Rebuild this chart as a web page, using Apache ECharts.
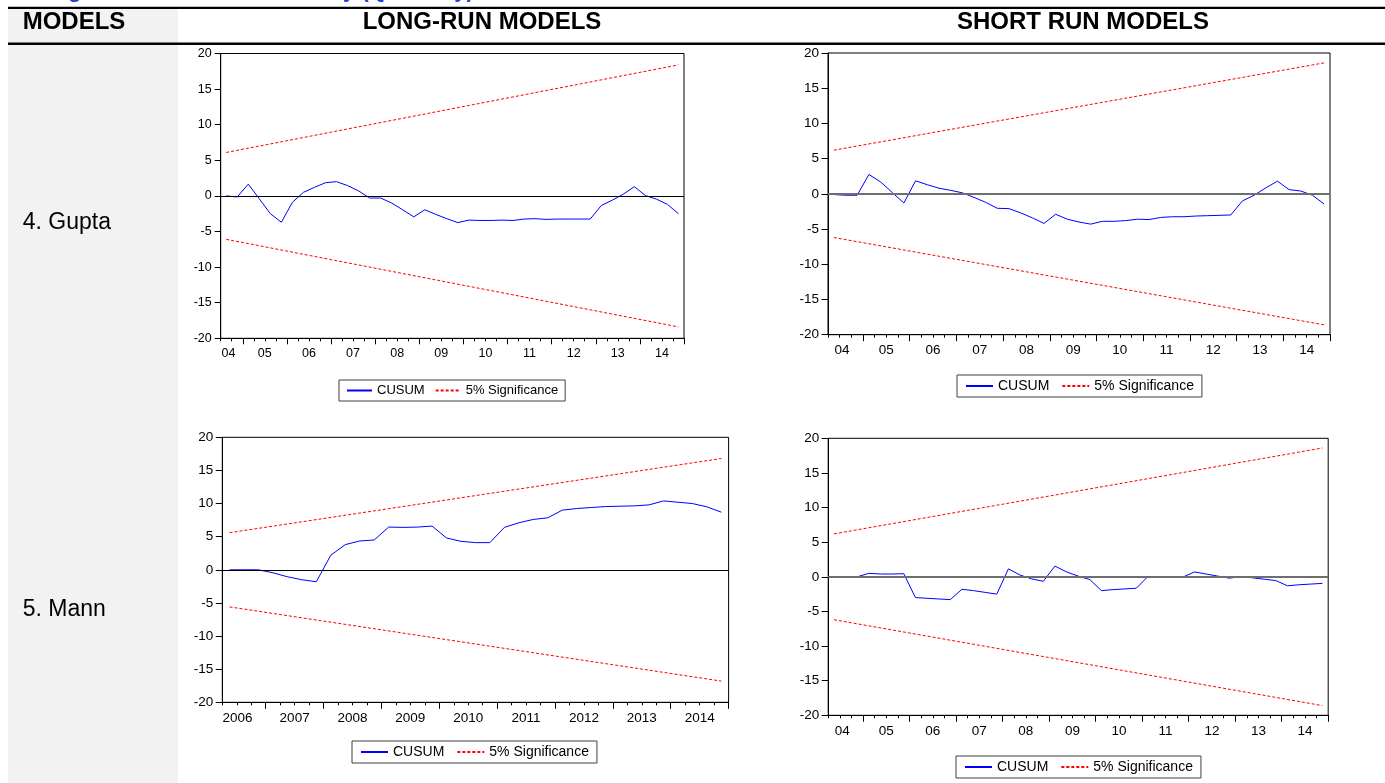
<!DOCTYPE html>
<html><head><meta charset="utf-8">
<script src="https://cdn.jsdelivr.net/npm/echarts@6/dist/echarts.min.js"></script>
<style>html,body{margin:0;padding:0;background:#fff}#c{width:1385px;height:783px}</style>
</head><body><div id="c"></div>
<script>
// ---------------- DATA ----------------
const quartersGuptaLR = ["2004Q3","2004Q4",
 "2005Q1","2005Q2","2005Q3","2005Q4","2006Q1","2006Q2","2006Q3","2006Q4",
 "2007Q1","2007Q2","2007Q3","2007Q4","2008Q1","2008Q2","2008Q3","2008Q4",
 "2009Q1","2009Q2","2009Q3","2009Q4","2010Q1","2010Q2","2010Q3","2010Q4",
 "2011Q1","2011Q2","2011Q3","2011Q4","2012Q1","2012Q2","2012Q3","2012Q4",
 "2013Q1","2013Q2","2013Q3","2013Q4","2014Q1","2014Q2","2014Q3","2014Q4"];
const quartersShortRun = ["2004Q2","2004Q3","2004Q4",
 "2005Q1","2005Q2","2005Q3","2005Q4","2006Q1","2006Q2","2006Q3","2006Q4",
 "2007Q1","2007Q2","2007Q3","2007Q4","2008Q1","2008Q2","2008Q3","2008Q4",
 "2009Q1","2009Q2","2009Q3","2009Q4","2010Q1","2010Q2","2010Q3","2010Q4",
 "2011Q1","2011Q2","2011Q3","2011Q4","2012Q1","2012Q2","2012Q3","2012Q4",
 "2013Q1","2013Q2","2013Q3","2013Q4","2014Q1","2014Q2","2014Q3","2014Q4"];
const quartersMannLR = ["2006Q2","2006Q3","2006Q4",
 "2007Q1","2007Q2","2007Q3","2007Q4","2008Q1","2008Q2","2008Q3","2008Q4",
 "2009Q1","2009Q2","2009Q3","2009Q4","2010Q1","2010Q2","2010Q3","2010Q4",
 "2011Q1","2011Q2","2011Q3","2011Q4","2012Q1","2012Q2","2012Q3","2012Q4",
 "2013Q1","2013Q2","2013Q3","2013Q4","2014Q1","2014Q2","2014Q3","2014Q4"];

const cusumGuptaLR = [0.0,-0.15,1.65,-0.4,-2.5,-3.7,-0.9,0.5,1.2,1.85,
 2.0,1.45,0.7,-0.3,-0.3,-1.0,-1.95,-2.95,-1.95,-2.6,
 -3.2,-3.75,-3.4,-3.45,-3.45,-3.4,-3.45,-3.25,-3.2,-3.3,
 -3.25,-3.25,-3.25,-3.25,-1.35,-0.6,0.25,1.3,0.05,-0.45,
 -1.2,-2.5];
const cusumGuptaSR = [-0.1,-0.2,-0.2,2.75,1.7,0.2,-1.3,1.85,1.3,0.8,
 0.5,0.15,-0.5,-1.2,-2.05,-2.1,-2.7,-3.4,-4.2,-2.9,
 -3.6,-4.0,-4.3,-3.9,-3.9,-3.8,-3.6,-3.65,-3.35,-3.25,
 -3.25,-3.15,-3.1,-3.05,-3.0,-1.0,-0.2,0.85,1.8,0.6,
 0.4,-0.2,-1.45];
const cusumMannLR = [0.0,0.0,0.0,-0.45,-1.05,-1.5,-1.8,2.2,3.8,4.35,
 4.5,6.45,6.4,6.45,6.6,4.8,4.3,4.1,4.1,6.4,
 7.1,7.6,7.85,9.0,9.25,9.4,9.55,9.6,9.65,9.8,
 10.4,10.2,10.0,9.5,8.7];
const cusumMannSR = [0.0,0.0,0.0,0.5,0.4,0.4,0.45,-3.0,-3.1,-3.2,
 -3.3,-1.8,-2.0,-2.25,-2.5,1.15,0.25,-0.3,-0.65,1.55,
 0.7,0.1,-0.4,-2.0,-1.85,-1.75,-1.65,0.05,0.0,0.0,
 -0.05,0.7,0.4,0.1,-0.2,0.05,-0.15,-0.35,-0.55,-1.3,
 -1.15,-1.05,-0.95];

// 5% significance bound at the first and last observation (lower bound is the mirror)
const boundGuptaLR = [6.1, 18.4];
const boundGuptaSR = [6.2, 18.6];
const boundMannLR  = [5.6, 16.8];
const boundMannSR  = [6.2, 18.6];

const yearLabelsShort = ["04","05","06","07","08","09","10","11","12","13","14"];
const yearLabelsMannLR = ["2006","2007","2008","2009","2010","2011","2012","2013","2014"];

const legendNames = ["CUSUM","5% Significance"];
const rowLabels = ["4. Gupta","5. Mann"];
const headerLabels = ["MODELS","LONG-RUN MODELS","SHORT RUN MODELS"];
const titleFragment = "Figure 4: CUSUM for Stability (Quarterly)";

// ---------------- LAYOUT / STYLE ----------------
const FONT = "Arial, 'Liberation Sans', sans-serif";
const panels = [
 {cats:quartersGuptaLR, vals:cusumGuptaLR, bound:boundGuptaLR, years:yearLabelsShort, base:2004,
  grid:{left:220.7, top:53.5, width:463.3, height:284.8}, legend:{left:339, top:380},
  zero:{color:'#000', width:1}, firstShift:-0.3, fs:12.5, lfs:13, iw:25, gap:10, pad:7, tick:6},
 {cats:quartersShortRun, vals:cusumGuptaSR, bound:boundGuptaSR, years:yearLabelsShort, base:2004,
  grid:{left:828, top:53, width:502, height:281.7}, legend:{left:957, top:375},
  zero:{color:'#6e6e6e', width:2}, firstShift:-0.3, fs:13.5, lfs:14, iw:27, gap:12, pad:8, tick:6.5},
 {cats:quartersMannLR, vals:cusumMannLR, bound:boundMannLR, years:yearLabelsMannLR, base:2006,
  grid:{left:222.3, top:437.3, width:506.3, height:265}, legend:{left:352, top:741},
  zero:{color:'#000', width:1}, firstShift:-0.45, fs:13.5, lfs:14, iw:27, gap:12, pad:8, tick:6.5},
 {cats:quartersShortRun, vals:cusumMannSR, bound:boundMannSR, years:yearLabelsShort, base:2004,
  grid:{left:828.2, top:438.3, width:500, height:277}, legend:{left:956, top:756},
  zero:{color:'#6e6e6e', width:2}, firstShift:-0.3, fs:13.5, lfs:14, iw:27, gap:12, pad:8, tick:6.5}
];

const grids=[], xAxes=[], yAxes=[], series=[], legends=[];
panels.forEach((p,i)=>{
  const q = s => (parseInt(s.slice(0,4),10)-p.base)*4 + parseInt(s.slice(5),10) - 1;
  const n = p.cats.length;
  const xmin = q(p.cats[0]), xmax = q(p.cats[n-1]) + 1;
  const y0 = parseInt(p.cats[0],10), y1 = parseInt(p.cats[n-1],10);
  const tickVals = [], labelVals = [], labelMap = {};
  for (let y=y0; y<=y1+1; y++){ const v=(y-p.base)*4; if (v>=xmin && v<=xmax) tickVals.push(v); }
  for (let y=y0; y<=y1; y++){
    const a=Math.max(xmin,(y-p.base)*4), b=Math.min(xmax,(y-p.base)*4+4);
    let c=(a+b)/2; if (y===y0) c+=p.firstShift;
    labelVals.push(c); labelMap[c.toFixed(3)] = p.years[y-y0];
  }
  grids.push(Object.assign({show:true, borderColor:'#000', borderWidth:1, backgroundColor:'#fff'}, p.grid));
  xAxes.push({type:'value', gridIndex:i, position:'bottom', min:xmin, max:xmax,
    axisLine:{show:true, onZero:false, lineStyle:{color:'#000', width:1}},
    axisTick:{show:true, customValues:tickVals, length:p.tick, lineStyle:{color:'#000', width:1}},
    axisLabel:{show:true, customValues:labelVals, formatter:v=>labelMap[(+v).toFixed(3)]||'',
      margin:9, color:'#000', fontSize:p.fs, fontFamily:FONT},
    splitLine:{show:false}});
  xAxes.push({type:'value', gridIndex:i, position:'bottom', min:xmin, max:xmax, interval:1,
    axisLine:{show:false, onZero:false}, axisTick:{show:true, length:3, lineStyle:{color:'#000', width:1}},
    axisLabel:{show:false}, splitLine:{show:false}});
  yAxes.push({type:'value', gridIndex:i, min:-20, max:20, interval:5,
    axisLine:{show:true, onZero:false, lineStyle:{color:'#000', width:1}},
    axisTick:{show:true, length:p.tick, lineStyle:{color:'#000', width:1}},
    axisLabel:{margin:9, color:'#000', fontSize:p.fs, fontFamily:FONT},
    splitLine:{show:false}});
  const xf = q(p.cats[0])+0.5, xl = q(p.cats[n-1])+0.5;
  series.push({type:'line', name:legendNames[0], xAxisIndex:2*i, yAxisIndex:i, z:4,
    data:p.cats.map((c,k)=>[q(c)+0.5, p.vals[k]]), symbol:'none', showSymbol:false,
    lineStyle:{color:'#0000ff', width:1}, itemStyle:{color:'#0000ff'},
    markLine:{silent:true, symbol:'none', label:{show:false}, animation:false,
      lineStyle:{color:p.zero.color, width:p.zero.width, type:'solid'}, data:[{yAxis:0}]}});
  [1,-1].forEach(s=>{
    series.push({type:'line', name:legendNames[1], xAxisIndex:2*i, yAxisIndex:i, z:3,
      data:[[xf, s*p.bound[0]],[xl, s*p.bound[1]]], symbol:'none', showSymbol:false,
      lineStyle:{color:'#ff0000', width:1, type:[3,2]}, itemStyle:{color:'#ff0000'}});
  });
  legends.push({left:p.legend.left, top:p.legend.top, orient:'horizontal', data:legendNames,
    borderColor:'#404040', borderWidth:1, padding:[4,p.pad,4,p.pad], itemWidth:p.iw, itemHeight:12, itemGap:p.gap,
    selectedMode:false, itemStyle:{opacity:0, borderWidth:0},
    textStyle:{fontSize:p.lfs, color:'#000', fontFamily:FONT}});
});

const graphic = [
  {type:'rect', z:-10, shape:{x:8, y:9, width:170, height:774}, style:{fill:'#f2f2f2'}},
  {type:'rect', shape:{x:8, y:6.8, width:1377, height:2.3}, style:{fill:'#000'}},
  {type:'rect', shape:{x:8, y:42.5, width:1377, height:2.6}, style:{fill:'#000'}},
  {type:'text', x:48.5, y:2.1, style:{text:titleFragment, fontSize:22, fontWeight:'bold', fontFamily:FONT, fill:'#1f3fdf', verticalAlign:'bottom'}},
  {type:'text', x:22.7, y:22, style:{text:headerLabels[0], fontSize:24, fontWeight:'bold', fontFamily:FONT, fill:'#000', verticalAlign:'middle'}},
  {type:'text', x:482, y:22, style:{text:headerLabels[1], fontSize:24, fontWeight:'bold', fontFamily:FONT, fill:'#000', align:'center', verticalAlign:'middle'}},
  {type:'text', x:1083, y:22, style:{text:headerLabels[2], fontSize:24, fontWeight:'bold', fontFamily:FONT, fill:'#000', align:'center', verticalAlign:'middle'}},
  {type:'text', x:22.7, y:223, style:{text:rowLabels[0], fontSize:23, fontFamily:FONT, fill:'#000', verticalAlign:'middle'}},
  {type:'text', x:22.7, y:609.5, style:{text:rowLabels[1], fontSize:23, fontFamily:FONT, fill:'#000', verticalAlign:'middle'}}
];

const chart = echarts.init(document.getElementById('c'), null, {renderer:'canvas'});
chart.setOption({animation:false, backgroundColor:'#fff', grid:grids, xAxis:xAxes, yAxis:yAxes,
  series:series, legend:legends, graphic:graphic});
</script></body></html>
